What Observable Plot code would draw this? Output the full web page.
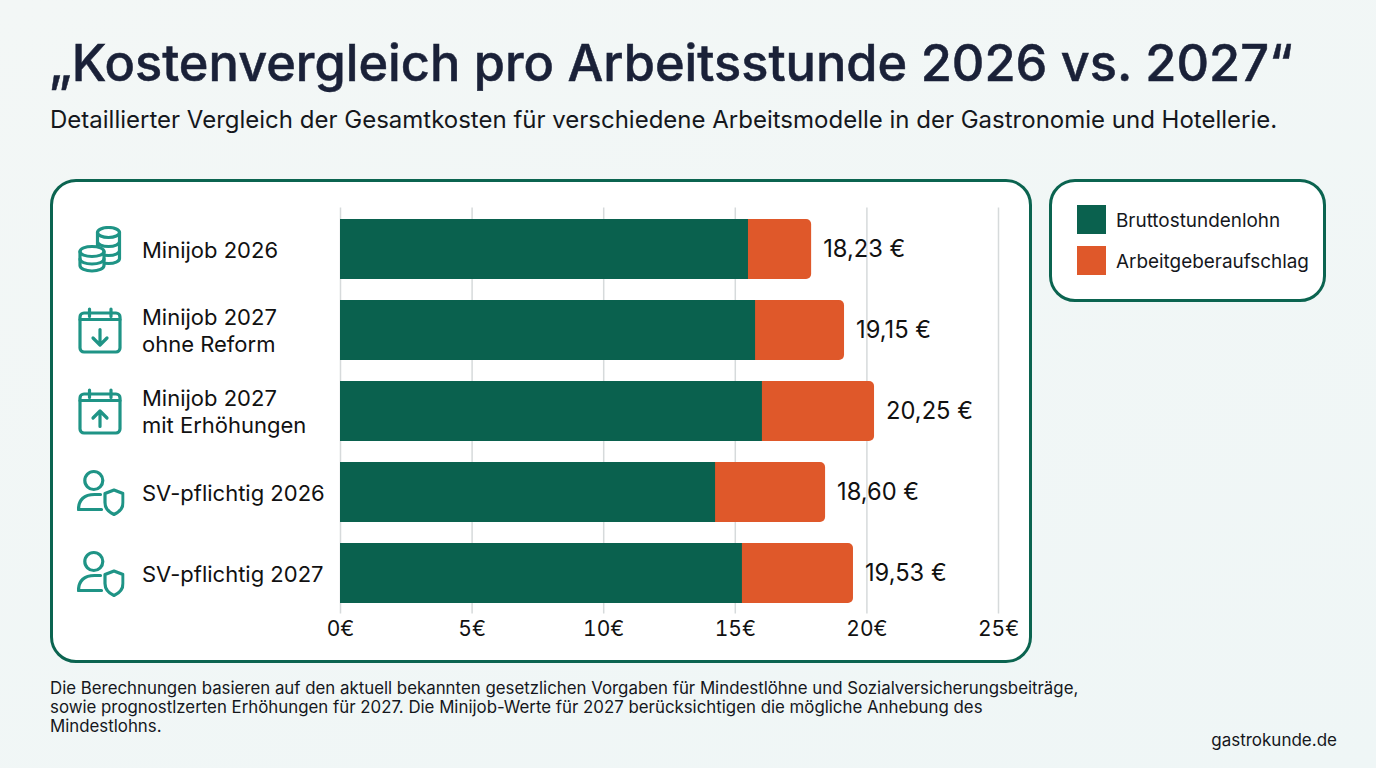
<!DOCTYPE html>
<html lang="de">
<head>
<meta charset="utf-8">
<script src="https://cdn.jsdelivr.net/npm/d3@7"></script>
<script src="https://cdn.jsdelivr.net/npm/@observablehq/plot@0.6"></script>
<style>
html,body{margin:0;padding:0;width:1376px;height:768px;overflow:hidden;background:linear-gradient(160deg,#f3f7f6,#eff6f6);font-family:Inter,sans-serif;color:#111}
.abs{position:absolute;white-space:nowrap}
#title{left:49px;top:33px;font-size:50.5px;line-height:60px;font-weight:500;color:#1a2138;-webkit-text-stroke:0.5px #1a2138}
#subtitle{left:50px;top:104px;font-size:24px;line-height:32px;color:#15171c}
#card{left:50px;top:179px;width:976px;height:478px;border:3px solid #0b6450;border-radius:26px;background:#fff}
#chart{left:50px;top:180px;width:982px;height:482px}
#chart svg{display:block;overflow:visible}
#legend{left:1049px;top:179px;width:271px;height:117px;border:3px solid #0b6450;border-radius:26px;background:#fff}
.sw{position:absolute;left:1076.5px;width:29px;height:29px}
.lg{left:1116px;font-size:18.9px;line-height:24px;color:#15171c}
#note{left:50px;top:679px;font-size:16.83px;line-height:19px;color:#15171c}
#source{right:39px;top:729px;font-size:17px;line-height:22px;color:#15171c}
</style>
</head>
<body>
<div class="abs" id="title">„Kostenvergleich pro Arbeitsstunde 2026 vs. 2027“</div>
<div class="abs" id="subtitle">Detaillierter Vergleich der Gesamtkosten für verschiedene Arbeitsmodelle in der Gastronomie und Hotellerie.</div>
<div class="abs" id="card"></div>
<div class="abs" id="chart"></div>
<div class="abs" id="legend"></div>
<div class="sw" style="top:205px;background:#0a614e"></div>
<div class="abs lg" style="top:209px">Bruttostundenlohn</div>
<div class="sw" style="top:246px;background:#df582a"></div>
<div class="abs lg" style="top:250px">Arbeitgeberaufschlag</div>
<div class="abs" id="note">Die Berechnungen basieren auf den aktuell bekannten gesetzlichen Vorgaben für Mindestlöhne und Sozialversicherungsbeiträge,<br>sowie prognostlzerten Erhöhungen für 2027. Die Minijob-Werte für 2027 berücksichtigen die mögliche Anhebung des<br>Mindestlohns.</div>
<div class="abs" id="source">gastrokunde.de</div>
<script>
const categories = ["Minijob 2026", "Minijob 2027\nohne Reform", "Minijob 2027\nmit Erhöhungen", "SV-pflichtig 2026", "SV-pflichtig 2027"];
const wage = [15.5, 15.77, 16.03, 14.25, 15.27];
const surcharge = [2.4, 3.38, 4.26, 4.18, 4.22];
const valueLabels = ["18,23 €", "19,15 €", "20,25 €", "18,60 €", "19,53 €"];
const xTicks = [0, 5, 10, 15, 20, 25];

const svgIcon = body => "data:image/svg+xml;utf8," + encodeURIComponent(
  `<svg xmlns="http://www.w3.org/2000/svg" width="48" height="48" viewBox="0 0 48 48" fill="none" stroke="#1f9486" stroke-width="3.2" stroke-linecap="round" stroke-linejoin="round">${body}</svg>`);
const calendar = `<rect x="3.5" y="6.5" width="40" height="39" rx="4"/><path d="M3.5 13H43.5M13 2.5V10M34.5 2.5V10"/>`;
const coins = svgIcon(`<ellipse cx="32" cy="7" rx="11" ry="5"/><path d="M21 7V33C21 36 26 38 32 38S43 36 43 33V7M21 16C21 19 26 21 32 21S43 19 43 16M21 25C21 28 26 30 32 30S43 28 43 25"/><path fill="#fff" d="M3.5 26V40C3.5 43 9 45.5 15.5 45.5S27.5 43 27.5 40V26C27.5 23 22 21 15.5 21S3.5 23 3.5 26Z"/><path d="M3.5 26C3.5 29 9 31 15.5 31S27.5 29 27.5 26M3.5 33.5C3.5 36.5 9 38.5 15.5 38.5S27.5 36.5 27.5 33.5"/>`);
const calDown = svgIcon(calendar + `<path d="M23.5 23V38M16.5 31.5L23.5 38.5L30.5 31.5"/>`);
const calUp = svgIcon(calendar + `<path d="M23.5 39V24M16.5 30.5L23.5 23.5L30.5 30.5"/>`);
const person = svgIcon(`<circle cx="17.3" cy="12" r="9"/><path d="M25 41H2C2 31 8 26 18 26H24"/><path d="M37.5 21.5L46.5 25V34C46.5 40 42 44 37.5 46C33 44 28.5 40 28.5 34V25Z"/>`);
const icons = [coins, calDown, calUp, person, person];

const rows = categories.map((c, i) => ({
  category: c, wage: wage[i], total: wage[i] + surcharge[i], label: valueLabels[i], icon: icons[i]
}));

const plot = Plot.plot({
  width: 982,
  height: 482,
  marginLeft: 290,
  marginRight: 34,
  marginTop: 27.5,
  marginBottom: 48.5,
  style: {background: "transparent", fontFamily: "Inter, sans-serif", overflow: "visible"},
  x: {domain: [0, 25], label: null},
  y: {domain: categories, paddingInner: 0.26, paddingOuter: 0.13, align: 0.5, label: null},
  marks: [
    Plot.gridX(xTicks, {stroke: "#d6dadb", strokeWidth: 1.5, strokeOpacity: 1}),
    Plot.axisX(xTicks, {tickSize: 0, tickPadding: 0, fontSize: 21, tickFormat: d => d + "€", label: null, fill: "#111", lineAnchor: "middle", dy: 15.5}),
    Plot.axisY({ticks: [], tickSize: 0, label: null}),
    Plot.barX(rows, {x1: 0, x2: "total", y: "category", fill: "#df582a", rx: 5}),
    Plot.barX(rows, {x1: 0, x2: "wage", y: "category", fill: "#0a614e"}),
    Plot.text(rows, {x: "total", y: "category", text: "label", textAnchor: "start", dx: 11.5, dy: -0.2, fontSize: 23.7, fill: "#111", lineAnchor: "middle"}),
    Plot.text(rows, {y: "category", text: "category", frameAnchor: "left", textAnchor: "start", dx: -198.5, dy: -0.2, fontSize: 22, lineHeight: 1.227, fill: "#111", lineAnchor: "middle"}),
    Plot.image(rows, {y: "category", src: "icon", frameAnchor: "left", dx: -240, width: 48, height: 48})
  ]
});
document.getElementById("chart").append(plot);
</script>
</body>
</html>
